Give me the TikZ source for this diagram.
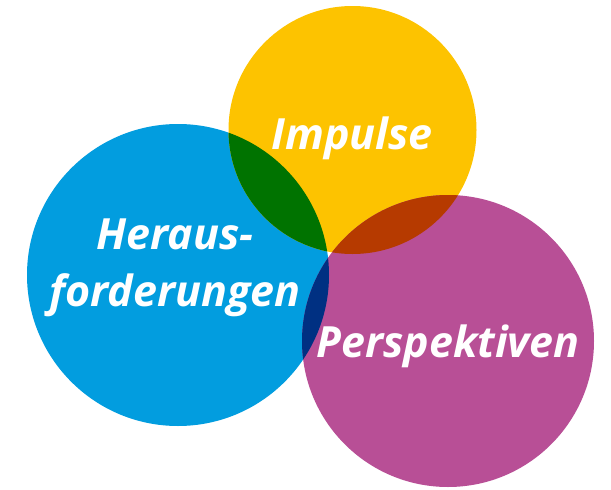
\documentclass[tikz,border=0pt]{standalone}
\usepackage{fontspec}
\setmainfont{Open Sans}
\definecolor{cyel}{HTML}{FDC300}
\definecolor{cblu}{HTML}{029DDF}
\definecolor{cpur}{HTML}{B84F96}
\definecolor{cgrn}{HTML}{007300}
\definecolor{cred}{HTML}{B63A00}
\definecolor{cdbl}{HTML}{003082}
\tikzset{lbl/.style={text=white,font=\bfseries\itshape\fontsize{43}{57}\selectfont,align=center,inner sep=0pt}}
\begin{document}
\begin{tikzpicture}[x=1pt,y=-1pt]
\useasboundingbox (0,0) rectangle (611,490);
\def\Ycirc{(352.5,130) circle[radius=124]}
\def\Bcirc{(178,275) circle[radius=151]}
\def\Pcirc{(448,341) circle[radius=146]}
\fill[cblu] \Bcirc;
\fill[cyel] \Ycirc;
\fill[cpur] \Pcirc;
\begin{scope}\clip \Ycirc; \fill[cgrn] \Bcirc; \end{scope}
\begin{scope}\clip \Ycirc; \fill[cred] \Pcirc; \end{scope}
\begin{scope}\clip \Bcirc; \fill[cdbl] \Pcirc; \end{scope}
\node[lbl,anchor=base] (imp) at (352,149) {Impulse};
\node[lbl,anchor=base] (her) at (175,306) {Heraus-\\forderungen};
\node[lbl,anchor=base] (per) at (448,357) {Perspektiven};
\end{tikzpicture}
\end{document}
